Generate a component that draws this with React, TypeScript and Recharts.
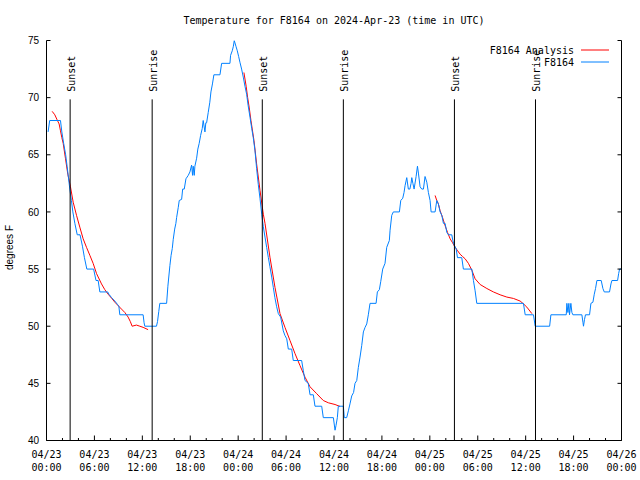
import { Legend, Line, LineChart, ReferenceLine, XAxis, YAxis } from 'recharts'

// hours since 04/23 00:00 UTC, degrees F
const observedF8164: [number, number][] = [
	[0.2, 67], [0.4, 68], [1.75, 68], [1.92, 67], [2.15, 66], [2.4, 65], [2.58, 64], [2.75, 63], [2.92, 62],
	[3.12, 61], [3.3, 60], [3.55, 59], [3.85, 58], [4.2, 58], [4.5, 57], [4.75, 56], [5.05, 55], [5.9, 55],
	[6.2, 54], [6.47, 54], [6.68, 53], [7.66, 53], [7.82, 52.8], [8.15, 52.5], [8.56, 52.2], [8.9, 51.9],
	[9.06, 51.75], [9.18, 51], [12.1, 51], [12.22, 50.3], [12.31, 50], [13.77, 50], [13.9, 50.4], [14.06, 51.3],
	[14.19, 52], [15.04, 52], [15.2, 53.5], [15.45, 55.3], [15.6, 56.2], [15.75, 56.8], [15.87, 57.6],
	[16.05, 58.5], [16.2, 59], [16.29, 59.5], [16.5, 60.4], [16.62, 61], [16.92, 61.1], [17.05, 62], [17.25, 62],
	[17.46, 62.9], [17.75, 63.2], [17.96, 63.5], [18.17, 64.1], [18.29, 63.2], [18.37, 64], [18.5, 63.2],
	[18.58, 64], [18.8, 64.7], [18.95, 65.5], [19.12, 66], [19.3, 66.7], [19.5, 67.3], [19.62, 68], [19.84, 67],
	[19.95, 67.8], [20.05, 67.8], [20.25, 68.7], [20.45, 69.6], [20.59, 70.5], [20.78, 71.2], [20.96, 72],
	[21.72, 72], [21.93, 73], [22.97, 73], [23.05, 73.7], [23.26, 74.1], [23.4, 74.5], [23.51, 75],
	[23.72, 74.5], [23.89, 74.1], [24.06, 73.6], [24.22, 73.1], [24.43, 72.5], [24.64, 71.8], [24.85, 71],
	[25.06, 70.3], [25.25, 69.3], [25.48, 68.3], [25.7, 67.3], [25.89, 66.5], [26.1, 65.4], [26.31, 63.8],
	[26.52, 62.4], [26.73, 61.2], [26.95, 59.8], [27.15, 58.7], [27.36, 57.8], [27.57, 56.9], [27.78, 56],
	[27.98, 55.2], [28.2, 54.3], [28.4, 53.4], [28.6, 52.5], [28.82, 51.7], [29.03, 51.1], [29.32, 50.8],
	[29.65, 49.6], [29.85, 49.2], [30.08, 48.9], [30.28, 48], [30.7, 48], [30.9, 47], [31.95, 47], [32.16, 46.1],
	[32.37, 45.25], [32.78, 45], [33.0, 44], [33.41, 44], [33.62, 43], [34.46, 43], [34.66, 42], [35.92, 42],
	[36.13, 40.9], [36.25, 41.3], [36.42, 42], [36.54, 43], [37.17, 43], [37.29, 42], [37.59, 42], [37.8, 42.6],
	[38.0, 43.2], [38.22, 43.9], [38.45, 44.2], [38.63, 45], [38.85, 45.25], [39.05, 46.4], [39.26, 47.3],
	[39.47, 48.3], [39.68, 49.5], [39.89, 49.9], [40.1, 50.2], [40.3, 51], [40.51, 52], [41.27, 52], [41.43, 53],
	[41.68, 53.2], [41.85, 53.9], [42.1, 55], [42.39, 55.5], [42.6, 56.9], [42.93, 57.5], [43.02, 58.4],
	[43.23, 59.7], [43.43, 60], [44.19, 60], [44.36, 61], [44.61, 61.2], [44.77, 61.7], [44.9, 62.3],
	[45.11, 63], [45.31, 62], [45.5, 62], [45.65, 62.5], [45.74, 63], [45.88, 62.5], [46.03, 62], [46.28, 63.1],
	[46.45, 64], [46.57, 63.4], [46.78, 62.2], [46.99, 62], [47.2, 62], [47.4, 63.1], [47.62, 62.6],
	[47.82, 61.7], [48.03, 61], [48.16, 60], [48.66, 60], [48.87, 61], [49.07, 60.7], [49.29, 60], [49.5, 59.7],
	[49.7, 59], [49.91, 59], [50.13, 58.2], [50.33, 58], [50.75, 58], [50.88, 57.5], [51.04, 57.1],
	[51.29, 56.8], [51.46, 56], [52.0, 56], [52.2, 55], [53.26, 55], [53.46, 54], [53.67, 53.1], [53.88, 52],
	[59.72, 52], [59.94, 51], [60.98, 51], [61.19, 50], [63.0, 50], [63.16, 51], [65.08, 51], [65.16, 52],
	[65.29, 51.2], [65.41, 52], [65.49, 51], [65.66, 52], [65.79, 51.2], [65.91, 51], [67.04, 51], [67.17, 50.35],
	[67.24, 50], [67.37, 50.6], [67.49, 51], [68.0, 51], [68.17, 52], [68.42, 52.1], [68.59, 52.8], [68.75, 53.3],
	[68.92, 54], [69.46, 54], [69.67, 53.3], [69.84, 53], [70.5, 53], [70.68, 53.7], [70.8, 54], [71.51, 54],
	[71.64, 54.6], [71.76, 55], [72.0, 55],
]

const analysisNight1: [number, number][] = [
	[0.71, 68.8], [1.04, 68.5], [1.33, 68.06], [1.58, 67.7], [1.75, 67.1], [1.92, 66.5], [2.09, 66.0],
	[2.38, 64.65], [2.67, 63.3], [3.0, 62.2], [3.34, 60.85], [3.76, 59.7], [4.17, 58.67], [4.59, 57.65],
	[5.01, 56.9], [5.43, 56.2], [5.84, 55.5], [6.27, 54.6], [6.89, 53.7], [7.3, 53.2], [7.72, 52.8],
	[8.15, 52.45], [8.56, 52.1], [8.97, 51.8], [9.39, 51.5], [9.81, 51.2], [10.22, 50.8], [10.5, 50.4],
	[10.72, 50.0], [11.26, 50.1], [11.69, 50.0], [12.1, 49.9], [12.72, 49.7],
]

const analysisNight2: [number, number][] = [
	[24.72, 72.2], [25.0, 71.0], [25.19, 70.0], [25.39, 69.1], [25.6, 68.0], [25.98, 66.25], [26.31, 64.2],
	[26.73, 61.9], [27.15, 59.8], [27.36, 59.0], [27.98, 56.04], [28.61, 53.4], [29.24, 51.1], [29.86, 49.9],
	[30.49, 48.75], [31.12, 47.6], [31.74, 46.56], [32.37, 45.54], [33.0, 44.7], [33.83, 44.1], [34.66, 43.5],
	[35.29, 43.3], [36.13, 43.15], [36.75, 42.98],
]

const analysisNight3: [number, number][] = [
	[48.66, 61.44], [48.87, 61.0], [49.07, 60.7], [49.29, 60.1], [49.6, 59.5], [49.91, 58.8], [50.22, 58.2],
	[50.54, 57.65], [50.85, 57.3], [51.17, 56.9], [51.48, 56.6], [51.79, 56.3], [52.1, 56.1], [52.42, 55.9],
	[52.83, 55.5], [53.26, 54.9], [53.67, 54.15], [54.3, 53.65], [55.14, 53.3], [55.96, 53.0], [56.8, 52.75],
	[57.64, 52.55], [58.47, 52.43], [59.31, 52.2], [59.72, 51.96], [60.15, 51.67], [60.78, 51.1],
]

const sunHours = [2.96, 13.23, 27.02, 37.17, 51.08, 61.23]
const sunLabels = ['Sunset', 'Sunrise', 'Sunset', 'Sunrise', 'Sunset', 'Sunrise']

const tempTicks = [40, 45, 50, 55, 60, 65, 70, 75]
const hourTicks = [0, 2, 4, 6, 8, 10, 12, 14, 16, 18, 20, 22, 24, 26, 28, 30, 32, 34, 36, 38, 40, 42, 44, 46, 48,
	50, 52, 54, 56, 58, 60, 62, 64, 66, 68, 70, 72]
const labelHours = [0, 6, 12, 18, 24, 30, 36, 42, 48, 54, 60, 66, 72]
const tickDates = ['04/23', '04/23', '04/23', '04/23', '04/24', '04/24', '04/24', '04/24', '04/25', '04/25', '04/25', '04/25', '04/26']
const tickTimes = ['00:00', '06:00', '12:00', '18:00', '00:00', '06:00', '12:00', '18:00', '00:00', '06:00', '12:00', '18:00', '00:00']

const seriesNames = ['F8164 Analysis', 'F8164']

const toRows = (pts: [number, number][]) => pts.map(([t, v]) => ({ t, v }))

const observedRows = toRows(observedF8164)
const analysisRows = [
	...toRows(analysisNight1),
	{ t: 18, v: null },
	...toRows(analysisNight2),
	{ t: 42, v: null },
	...toRows(analysisNight3),
]

const W = 640
const H = 480
const PLOT_LEFT = 46.5
const PLOT_RIGHT = 621.5
const PLOT_BOTTOM = 440.5
const PLOT_TOP = 40.5
const SUN_LINE_TOP = 69.85

const MONO = '"DejaVu Sans Mono", monospace'
const SANS = '"Liberation Sans", Arial, sans-serif'
const RED = '#ff0000'
const BLUE = '#0080ff'

const BottomTick = ({ x, y, payload }: any) => {
	const i = labelHours.indexOf(payload.value)
	const major = i >= 0
	return (
		<g>
			<line x1={x} x2={x} y1={y} y2={y - (major ? 5 : 2.5)} stroke='#000' />
			{major && <text x={x} y={y + 17} textAnchor='middle' fontFamily={MONO} fontSize={10} fill='#000'>{tickDates[i]}</text>}
			{major && <text x={x} y={y + 30.5} textAnchor='middle' fontFamily={MONO} fontSize={10} fill='#000'>{tickTimes[i]}</text>}
		</g>
	)
}

const TopTick = ({ x, y, payload }: any) => {
	const major = labelHours.includes(payload.value)
	return <line x1={x} x2={x} y1={y} y2={y + (major ? 5 : 2.5)} stroke='#000' />
}

const LeftTick = ({ x, y, payload }: any) => (
	<g>
		<line x1={x} x2={x + 4} y1={y} y2={y} stroke='#000' />
		<text x={x - 7.5} y={y + 3.6} textAnchor='end' fontFamily={SANS} fontSize={10} fill='#000'>{payload.value}</text>
	</g>
)

const RightTick = ({ x, y }: any) => <line x1={x} x2={x - 4} y1={y} y2={y} stroke='#000' />

const SunMarker = ({ x1, y1, x2, y2, label }: any) => (
	<g>
		<line x1={x1} y1={y1} x2={x2} y2={y2} stroke='#000' strokeWidth={1} />
		<text x={x1 + 4.5} y={y1 - 7.5} transform={`rotate(-90 ${x1 + 4.5} ${y1 - 7.5})`} fontFamily={MONO} fontSize={10} fill='#000'>
			{label}
		</text>
	</g>
)

const LegendBox = ({ payload }: any) => {
	const items = [...(payload || [])].sort((a: any, b: any) => seriesNames.indexOf(a.value) - seriesNames.indexOf(b.value))
	return (
		<svg width={190} height={30} style={{ display: 'block', overflow: 'visible' }}>
			{items.map((p: any, i: number) => (
				<g key={p.value}>
					<text x={144} y={14 + i * 12.3} textAnchor='end' fontFamily={MONO} fontSize={10} fill='#000'>{p.value}</text>
					<line x1={151} x2={179} y1={10 + i * 12} y2={10 + i * 12} stroke={p.color} strokeWidth={1} />
				</g>
			))}
		</svg>
	)
}

export default function App() {
	return (
		<div style={{ position: 'absolute', left: 0, top: 0, width: W, height: H, background: '#fff' }}>
			<LineChart width={W} height={H} margin={{ top: PLOT_TOP, right: 0, bottom: 0, left: 0 }}>
				<XAxis xAxisId='b' dataKey='t' type='number' domain={[0, 72]} ticks={hourTicks} interval={0}
							 height={H - PLOT_BOTTOM} tickSize={0} tickMargin={0} tickLine={false}
							 axisLine={{ stroke: '#000' }} tick={BottomTick} allowDataOverflow />
				<XAxis xAxisId='t' orientation='top' dataKey='t' type='number' domain={[0, 72]} ticks={hourTicks}
							 interval={0} height={0} tickSize={0} tickMargin={0} tickLine={false}
							 axisLine={{ stroke: '#000' }} tick={TopTick} allowDataOverflow />
				<YAxis yAxisId='l' type='number' domain={[40, 75]} ticks={tempTicks} interval={0} width={PLOT_LEFT}
							 tickSize={0} tickMargin={0} tickLine={false} axisLine={{ stroke: '#000' }} tick={LeftTick}
							 allowDataOverflow />
				<YAxis yAxisId='r' orientation='right' type='number' domain={[40, 75]} ticks={tempTicks} interval={0}
							 width={W - PLOT_RIGHT} tickSize={0} tickMargin={0} tickLine={false}
							 axisLine={{ stroke: '#000' }} tick={RightTick} allowDataOverflow />

				<Line xAxisId='b' yAxisId='l' data={analysisRows} dataKey='v' name={seriesNames[0]} type='linear'
							stroke={RED} strokeWidth={1} dot={false} activeDot={false} isAnimationActive={false} />
				<Line xAxisId='b' yAxisId='l' data={observedRows} dataKey='v' name={seriesNames[1]} type='linear'
							stroke={BLUE} strokeWidth={1} dot={false} activeDot={false} isAnimationActive={false} />

				{sunHours.map((h, i) => (
					<ReferenceLine key={i} xAxisId='b' yAxisId='l' segment={[{ x: h, y: SUN_LINE_TOP }, { x: h, y: 40 }]}
												 stroke='#000' shape={(p: any) => <SunMarker {...p} label={sunLabels[i]} />} />
				))}

				<Legend layout='vertical' align='center' verticalAlign='middle' content={LegendBox}
								wrapperStyle={{ left: 430, top: 40, width: 190, height: 30 }} />
			</LineChart>
			<svg width={W} height={H} style={{ position: 'absolute', left: 0, top: 0, pointerEvents: 'none' }}>
				<text x={334} y={24} textAnchor='middle' fontFamily={MONO} fontSize={10} fill='#000'>
					Temperature for F8164 on 2024-Apr-23 (time in UTC)
				</text>
				<text x={13} y={247.5} transform='rotate(-90 13 247.5)' textAnchor='middle' fontFamily={SANS} fontSize={10} fill='#000'>
					degrees F
				</text>
			</svg>
		</div>
	)
}
